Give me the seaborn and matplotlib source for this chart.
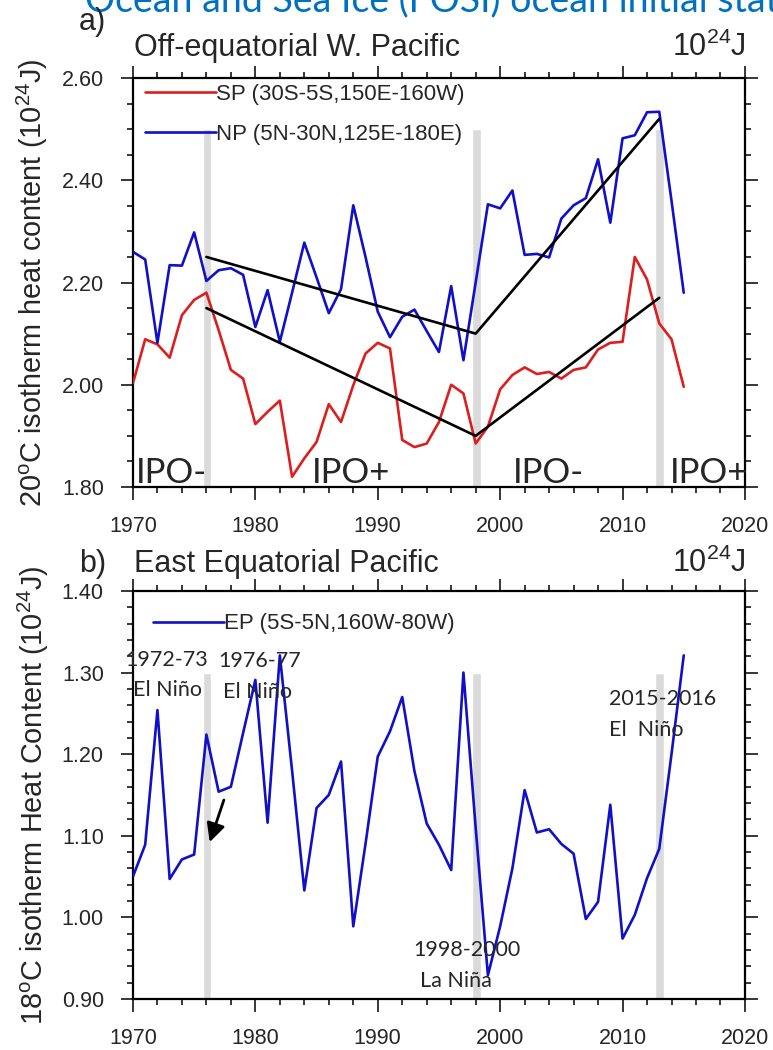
import matplotlib
matplotlib.use("Agg")
import matplotlib.pyplot as plt
from matplotlib.ticker import MultipleLocator, FormatStrFormatter
import seaborn as sns
import pandas as pd

# yearly values
years = list(range(1970, 2016))
sp_vals = [2.003, 2.089, 2.079, 2.053, 2.136, 2.166, 2.180, 2.107, 2.029, 2.012,
           1.923, 1.947, 1.969, 1.820, 1.856, 1.888, 1.962, 1.927, 1.999, 2.061,
           2.082, 2.071, 1.892, 1.878, 1.885, 1.927, 2.000, 1.983, 1.885, 1.918,
           1.991, 2.019, 2.034, 2.021, 2.025, 2.012, 2.029, 2.034, 2.069, 2.082,
           2.084, 2.250, 2.206, 2.120, 2.089, 1.996]
np_vals = [2.260, 2.245, 2.082, 2.234, 2.233, 2.298, 2.203, 2.224, 2.228, 2.215,
           2.113, 2.185, 2.084, 2.180, 2.278, 2.210, 2.140, 2.187, 2.351, 2.250,
           2.143, 2.093, 2.133, 2.147, 2.105, 2.064, 2.193, 2.048, 2.200, 2.353,
           2.345, 2.380, 2.254, 2.256, 2.249, 2.325, 2.351, 2.365, 2.441, 2.317,
           2.482, 2.488, 2.533, 2.534, 2.360, 2.180]
ep_vals = [1.050, 1.089, 1.254, 1.047, 1.071, 1.077, 1.224, 1.154, 1.160, 1.226,
           1.291, 1.116, 1.321, 1.180, 1.033, 1.134, 1.150, 1.191, 0.989, 1.090,
           1.197, 1.228, 1.270, 1.179, 1.115, 1.089, 1.058, 1.300, 1.110, 0.929,
           0.989, 1.060, 1.156, 1.104, 1.108, 1.090, 1.078, 0.998, 1.019, 1.138,
           0.974, 1.003, 1.048, 1.084, 1.200, 1.321]

# piecewise trend lines (top panel)
trend_years = [1976, 1998, 2013]
trend_np = [2.250, 2.100, 2.520]
trend_sp = [2.150, 1.900, 2.170]

# grey marker bars
bar_years = [1976.05, 1998.05, 2013.0]
bar_top_a = 2.50
bar_top_b = 1.30

ipo_labels = ["IPO-", "IPO+", "IPO-", "IPO+"]
ipo_x = [1970.2, 1984.6, 2001.05, 2013.9]

sp_label = "SP (30S-5S,150E-160W)"
np_label = "NP (5N-30N,125E-180E)"
ep_label = "EP (5S-5N,160W-80W)"

df = pd.DataFrame({"year": years, "SP": sp_vals, "NP": np_vals, "EP": ep_vals})

sns.set_theme(style="ticks")
plt.rcParams["font.family"] = ["Liberation Sans", "DejaVu Sans"]
plt.rcParams["mathtext.fontset"] = "custom"
plt.rcParams["mathtext.rm"] = "Liberation Sans"

RED = "#dc1e1e"
BLUE = "#1010c8"
GREY = "#dadada"
CAL = ["Lato", "DejaVu Sans"]

fig = plt.figure(figsize=(7.73, 10.5), dpi=100)
ax1 = fig.add_axes([0.172, 0.5362, 0.7917, 0.3895])
ax2 = fig.add_axes([0.172, 0.0486, 0.7917, 0.3886])

#top panel
ax1.bar(bar_years, [bar_top_a - 1.8] * 3, bottom=1.8, width=0.7, color=GREY, zorder=1)
sns.lineplot(data=df, x="year", y="SP", ax=ax1, color=RED, lw=1.9, label=sp_label, zorder=3)
sns.lineplot(data=df, x="year", y="NP", ax=ax1, color=BLUE, lw=1.9, label=np_label, zorder=3)
sns.lineplot(x=trend_years, y=trend_np, ax=ax1, color="black", lw=1.9, legend=False, zorder=4)
sns.lineplot(x=trend_years, y=trend_sp, ax=ax1, color="black", lw=1.9, legend=False, zorder=4)
ax1.set_ylim(1.8, 2.6)
ax1.yaxis.set_major_locator(MultipleLocator(0.2))
ax1.yaxis.set_minor_locator(MultipleLocator(0.05))
for lab, x in zip(ipo_labels, ipo_x):
    ax1.text(x, 1.807, lab, fontsize=25, family=CAL, va="baseline", ha="left", zorder=5)
ax1.set_ylabel(r"20$\mathregular{^o}$C isotherm heat content (10$^{24}$J)", fontsize=20.8, labelpad=8)

#bottom panel
ax2.bar(bar_years, [bar_top_b - 0.9] * 3, bottom=0.9, width=0.7, color=GREY, zorder=1)
sns.lineplot(data=df, x="year", y="EP", ax=ax2, color=BLUE, lw=1.9, label=ep_label, zorder=3)
ax2.set_ylim(0.9, 1.4)
ax2.yaxis.set_major_locator(MultipleLocator(0.1))
ax2.yaxis.set_minor_locator(MultipleLocator(0.02))
ax2.set_ylabel(r"18$\mathregular{^o}$C isotherm Heat Content (10$^{24}$J)", fontsize=20.8, labelpad=8)

notes = [("1972-73", 1969.35, 1.308), ("El Niño", 1970.0, 1.271),
         ("1976-77", 1976.94, 1.307), ("El Niño", 1977.35, 1.269),
         ("2015-2016", 2008.9, 1.260), ("El  Niño", 2008.9, 1.222),
         ("1998-2000", 1992.9, 0.953), ("La Niña", 1993.45, 0.915)]
for t, x, y in notes:
    ax2.text(x, y, t, fontsize=15.5, family=CAL, va="baseline", ha="left", zorder=5, clip_on=False)
ax2.annotate("", xy=(1976.2, 1.089), xytext=(1977.5, 1.147),
             arrowprops=dict(arrowstyle="-|>", color="black", lw=2, mutation_scale=28))

for ax in (ax1, ax2):
    ax.set_xlim(1970, 2020)
    ax.xaxis.set_major_locator(MultipleLocator(10))
    ax.xaxis.set_minor_locator(MultipleLocator(2))
    ax.yaxis.set_major_formatter(FormatStrFormatter("%.2f"))
    ax.set_xlabel("")
    ax.tick_params(which="both", direction="out", top=True, right=True, labeltop=False,
                   labelright=False, labelsize=15.5, width=1.1, pad=12, color="black")
    ax.tick_params(which="major", length=9)
    ax.tick_params(which="minor", length=4.5)
    for s in ax.spines.values():
        s.set_linewidth(1.6)
        s.set_color("black")
    ax.set_facecolor("white")

leg1 = ax1.legend(loc="upper left", bbox_to_anchor=(0.0196, 0.985), frameon=False, fontsize=16,
                  handlelength=3.2, handletextpad=0.0, borderpad=0, borderaxespad=0, labelspacing=0.85)
leg2 = ax2.legend(loc="upper left", bbox_to_anchor=(0.0327, 0.945), frameon=False, fontsize=16,
                  handlelength=3.2, handletextpad=0.0, borderpad=0, borderaxespad=0)

# panel headings
fig.text(0.11, 0.9895, "Ocean and Sea Ice (FOSI) ocean initial state", color="#0070C0",
         fontsize=27, family=CAL, va="baseline")
fig.text(0.102, 0.971, "a)", fontsize=22, va="baseline")
fig.text(0.173, 0.9467, "Off-equatorial W. Pacific", fontsize=22, va="baseline")
fig.text(0.9651, 0.9467, r"10$^{24}$J", fontsize=22, va="baseline", ha="right")
fig.text(0.102, 0.4552, "b)", fontsize=22, va="baseline")
fig.text(0.173, 0.4552, "East Equatorial Pacific", fontsize=22, va="baseline")
fig.text(0.9651, 0.4552, r"10$^{24}$J", fontsize=22, va="baseline", ha="right")

fig.savefig("out.png", dpi=100, facecolor="white")
